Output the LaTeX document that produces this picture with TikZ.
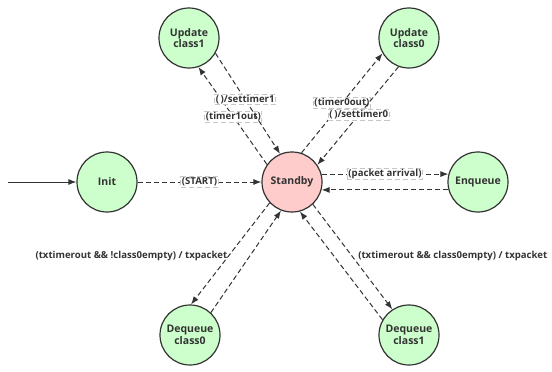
\documentclass[tikz,border=0pt]{standalone}
\usepackage{fontspec}
\setmainfont{Open Sans}
\usetikzlibrary{arrows.meta}

\definecolor{stategreen}{HTML}{CCFFCC}
\definecolor{statered}{HTML}{FFCCCC}
\definecolor{ink}{HTML}{333333}

\begin{document}
\begin{tikzpicture}[x=1pt,y=-1pt,
    state/.style={circle,draw=ink,line width=1.2pt,fill=stategreen,minimum size=60pt,
        inner sep=0pt,align=center,text=ink,font=\fontsize{10.5}{11.5}\selectfont\bfseries},
    trans/.style={draw=ink,line width=1pt,dash pattern=on 5pt off 3pt,
        -{Latex[length=8pt,width=6pt]}},
    lbl/.style={draw=gray!45,fill=white,inner sep=1pt,text=ink,
        font=\fontsize{9.6}{11}\selectfont\bfseries},
    txt/.style={inner sep=1pt,text=ink,font=\fontsize{9.6}{11}\selectfont\bfseries}]

    \useasboundingbox (0,0) rectangle (552,372);

    % states
    \node[state] (init) at (107,182) {Init};
    \node[state,fill=statered] (standby) at (292,182) {Standby};
    \node[state] (enqueue) at (478,182) {Enqueue};
    \node[state] (upd1) at (189,38) {Update\\class1};
    \node[state] (upd0) at (409,38) {Update\\class0};
    \node[state] (deq0) at (190,335) {Dequeue\\class0};
    \node[state] (deq1) at (409,335) {Dequeue\\class1};
    \coordinate (entry) at (8,182);

    \draw[draw=ink,line width=1pt,-{Latex[length=8pt,width=6pt]}] (entry) -- (init); % entry -> Init
    \draw[trans] (init) -- node[lbl] {(START)} (standby); % Init -> Standby

    \draw[trans] (standby.15) -- node[lbl] {(packet arrival)} (enqueue.165); % Standby -> Enqueue
    \draw[trans] (enqueue.-165) -- (standby.-15); % Enqueue -> Standby

    \draw[trans] (standby.145) -- node[lbl,pos=0.49] {(timer1out)} (upd1.-72); % Standby -> Update1
    \draw[trans] (upd1.-30) -- node[lbl,pos=0.46] {(\,)/settimer1} (standby.113); % Update1 -> Standby

    \draw[trans] (standby.72) -- node[lbl,pos=0.5] {(timer0out)} (upd0.-150); % Standby -> Update0
    \draw[trans] (upd0.-110) -- node[lbl,pos=0.49] {(\,)/settimer0} (standby.34); % Update0 -> Standby

    \draw[trans] (standby.-137) -- node[txt,anchor=east,pos=0.52] {(txtimerout \&\& !class0empty) / txpacket} (deq0.88); % Standby -> Dequeue0
    \draw[trans] (deq0.47) -- (standby.-111); % Dequeue0 -> Standby

    \draw[trans] (standby.-47) -- node[txt,anchor=west,pos=0.49,xshift=5pt] {(txtimerout \&\& class0empty) / txpacket} (deq1.123); % Standby -> Dequeue1
    \draw[trans] (deq1.150) -- (standby.-75); % Dequeue1 -> Standby

\end{tikzpicture}
\end{document}
